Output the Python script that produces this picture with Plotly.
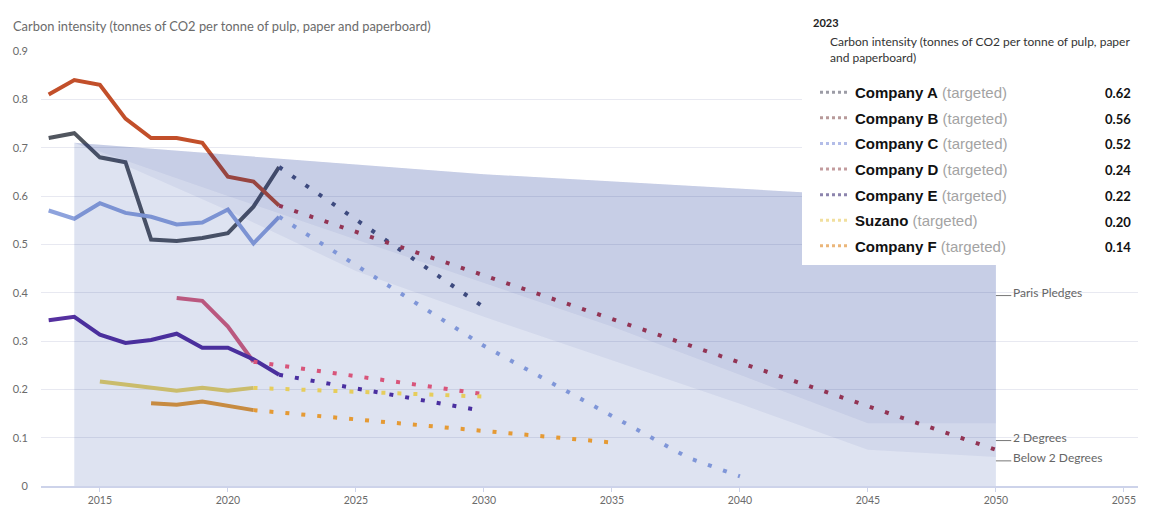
import plotly.graph_objects as go

# ---------------- data ----------------
hist_years_full = [2013, 2014, 2015, 2016, 2017, 2018, 2019, 2020, 2021, 2022]
company_a = [0.72, 0.73, 0.68, 0.67, 0.51, 0.507, 0.513, 0.523, 0.578, 0.66]
company_b = [0.81, 0.84, 0.83, 0.76, 0.72, 0.72, 0.71, 0.64, 0.63, 0.58]
company_c = [0.57, 0.553, 0.585, 0.565, 0.557, 0.541, 0.545, 0.572, 0.502, 0.557]
company_e = [0.343, 0.35, 0.313, 0.296, 0.302, 0.315, 0.286, 0.286, 0.262, 0.23]
years_d = [2018, 2019, 2020, 2021]
company_d = [0.389, 0.383, 0.33, 0.257]
years_suzano = [2015, 2016, 2017, 2018, 2019, 2020, 2021]
suzano = [0.216, 0.21, 0.205, 0.197, 0.203, 0.197, 0.203]
years_f = [2017, 2018, 2019, 2020, 2021]
company_f = [0.171, 0.168, 0.175, 0.166, 0.157]

# targeted (dotted) paths
target_a_years = [2022, 2030]
target_a = [0.66, 0.37]
target_b_years = [2022, 2050]
target_b = [0.58, 0.075]
target_c_years = [2022, 2030, 2035, 2038, 2040]
target_c = [0.557, 0.29, 0.145, 0.058, 0.02]
target_d_years = [2021, 2030]
target_d = [0.257, 0.19]
target_e_years = [2022, 2030]
target_e = [0.23, 0.155]
target_suzano_years = [2021, 2030]
target_suzano = [0.203, 0.185]
target_f_years = [2021, 2035]
target_f = [0.157, 0.09]

# benchmark scenarios
scenario_years = [2014, 2020, 2025, 2030, 2035, 2040, 2045, 2050]
paris_pledges = [0.71, 0.685, 0.665, 0.645, 0.63, 0.615, 0.60, 0.59]
two_degrees = [0.71, 0.60, 0.51, 0.42, 0.33, 0.23, 0.13, 0.13]
below_two_degrees = [0.71, 0.57, 0.445, 0.35, 0.26, 0.17, 0.075, 0.06]

legend_names = ["Company A", "Company B", "Company C", "Company D", "Company E", "Suzano", "Company F"]
values_2023 = ["0.62", "0.56", "0.52", "0.24", "0.22", "0.20", "0.14"]

scenario_labels = ["Paris Pledges", "2 Degrees", "Below 2 Degrees"]
scenario_label_y = [0.40, 0.10, 0.058]

x_ticks = [2015, 2020, 2025, 2030, 2035, 2040, 2045, 2050, 2055]
y_ticks = [0, 0.1, 0.2, 0.3, 0.4, 0.5, 0.6, 0.7, 0.8, 0.9]

# ---------------- styles ----------------
solid_colors = {
    "A": "#51565f", "B": "#c24f2a", "C": "#8ea3dd", "D": "#d65f7c",
    "E": "#55309f", "Suzano": "#e8d266", "F": "#e59a34",
}
dot_colors = {
    "A": "#3d4a7e", "B": "#923454", "C": "#7f96d8", "D": "#d8557a",
    "E": "#4a2fa0", "Suzano": "#e6cd5c", "F": "#e59a34",
}
legend_colors = ["#9c9ca6", "#b89a9a", "#b3bde8", "#c39c9e", "#8c84ad", "#f1df9e", "#ebb67a"]

CHART_FONT = "Lato, 'Open Sans', sans-serif"
LEGEND_FONT = "'Liberation Sans', Arial, sans-serif"
W, H = 1163, 506
ML, MR, MT, MB = 41, 25, 51, 20
PW, PH = W - ML - MR, H - MT - MB


def px_to_paper_x(px):
    return (px - ML) / PW


def px_to_paper_y(py):
    return (H - MB - py) / PH


fig = go.Figure()

# solid historical lines (drawn beneath the translucent scenario areas)
solid_series = [
    ("A", hist_years_full, company_a),
    ("B", hist_years_full, company_b),
    ("C", hist_years_full, company_c),
    ("D", years_d, company_d),
    ("E", hist_years_full, company_e),
    ("Suzano", years_suzano, suzano),
    ("F", years_f, company_f),
]
for key, xs, ys in solid_series:
    fig.add_trace(go.Scatter(x=xs, y=ys, mode="lines", showlegend=False, hoverinfo="skip",
                             line=dict(color=solid_colors[key], width=4)))

# scenario shading (layered translucent fills)
fill_rgb = "10,45,150"
fig.add_trace(go.Scatter(x=scenario_years, y=paris_pledges, mode="lines", fill="tozeroy",
                         fillcolor=f"rgba({fill_rgb},0.135)", line=dict(width=0),
                         showlegend=False, hoverinfo="skip"))
for lower in (below_two_degrees, two_degrees):
    fig.add_trace(go.Scatter(x=scenario_years, y=lower, mode="lines", line=dict(width=0),
                             showlegend=False, hoverinfo="skip"))
    fig.add_trace(go.Scatter(x=scenario_years, y=paris_pledges, mode="lines", fill="tonexty",
                             fillcolor=f"rgba({fill_rgb},0.055)", line=dict(width=0),
                             showlegend=False, hoverinfo="skip"))

# dotted target lines
target_series = [
    ("A", target_a_years, target_a),
    ("B", target_b_years, target_b),
    ("C", target_c_years, target_c),
    ("D", target_d_years, target_d),
    ("E", target_e_years, target_e),
    ("Suzano", target_suzano_years, target_suzano),
    ("F", target_f_years, target_f),
]
for key, xs, ys in target_series:
    fig.add_trace(go.Scatter(x=xs, y=ys, mode="lines", showlegend=False, hoverinfo="skip",
                             line=dict(color=dot_colors[key], width=4, dash="4px,12px")))

# legend entries
for name, col in zip(legend_names, legend_colors):
    fig.add_trace(go.Scatter(
        x=[None], y=[None], mode="lines", legendgroup=name,
        name=f"<b>{name}</b> <span style='color:#a3a3a3'>(targeted)</span>",
        line=dict(color=col, width=3, dash="3px,3px")))

shapes = [
    # white legend panel
    dict(type="rect", xref="paper", yref="paper", layer="above",
         x0=px_to_paper_x(802), x1=px_to_paper_x(W + 5),
         y0=px_to_paper_y(265), y1=px_to_paper_y(-5),
         fillcolor="white", line=dict(width=0)),
]
annotations = [
    dict(text="Carbon intensity (tonnes of CO2 per tonne of pulp, paper and paperboard)",
         xref="paper", yref="paper", x=px_to_paper_x(11), y=px_to_paper_y(26),
         xanchor="left", yanchor="middle", showarrow=False,
         font=dict(family=CHART_FONT, size=12.9, color="#6b6b6b")),
    dict(text="<b>2023</b>", xref="paper", yref="paper",
         x=px_to_paper_x(811), y=px_to_paper_y(22), xanchor="left", yanchor="middle",
         showarrow=False, font=dict(family=CHART_FONT, size=11, color="#222")),
    dict(text="Carbon intensity (tonnes of CO2 per tonne of pulp, paper<br>and paperboard)",
         xref="paper", yref="paper", align="left",
         x=px_to_paper_x(828), y=px_to_paper_y(49.5), xanchor="left", yanchor="middle",
         showarrow=False, font=dict(family=CHART_FONT, size=12, color="#333")),
]
row0, row_step = 93, 25.7
for i, v in enumerate(values_2023):
    annotations.append(dict(
        text=f"<b>{v}</b>", xref="paper", yref="paper",
        x=px_to_paper_x(1133), y=px_to_paper_y(row0 + i * row_step),
        xanchor="right", yanchor="middle", showarrow=False,
        font=dict(family=CHART_FONT, size=13, color="#111")))

for lab, yv in zip(scenario_labels, scenario_label_y):
    annotations.append(dict(text=lab, x=scenario_years[-1] + 0.6, y=yv, xref="x", yref="y",
                            xanchor="left", yanchor="middle", showarrow=False,
                            font=dict(family=CHART_FONT, size=12, color="#666")))
    shapes.append(dict(type="line", xref="x", yref="y", x0=scenario_years[-1],
                       x1=scenario_years[-1] + 0.6, y0=yv - 0.006, y1=yv - 0.006,
                       line=dict(color="#777", width=1), layer="above"))

fig.update_layout(
    width=W, height=H,
    margin=dict(l=ML, r=MR, t=MT, b=MB, autoexpand=False),
    paper_bgcolor="white", plot_bgcolor="white",
    font=dict(family=CHART_FONT, size=11, color="#6b6b6b"),
    showlegend=True,
    legend=dict(x=px_to_paper_x(815), y=px_to_paper_y(76), xanchor="left", yanchor="top",
                bgcolor="rgba(0,0,0,0)", tracegroupgap=3.1, traceorder="grouped",
                font=dict(family=LEGEND_FONT, size=15, color="#111"),
                itemclick=False, itemdoubleclick=False),
    shapes=shapes, annotations=annotations,
    xaxis=dict(range=[2012.7, 2055.55], tickvals=x_ticks, showgrid=False, zeroline=False,
               showline=True, linecolor="#cdd3ea", linewidth=1.5,
               ticks="outside", ticklen=4, tickcolor="#cdd3ea",
               tickfont=dict(size=10.5, color="#6b6b6b"), fixedrange=True),
    yaxis=dict(range=[0, 0.9], tickvals=y_ticks, showgrid=True, gridcolor="#e8e9f1",
               gridwidth=1, zeroline=False, showline=False, ticks="",
               ticklabelstandoff=12, tickfont=dict(size=11, color="#6b6b6b"), fixedrange=True),
)

fig.write_html("out.html")
